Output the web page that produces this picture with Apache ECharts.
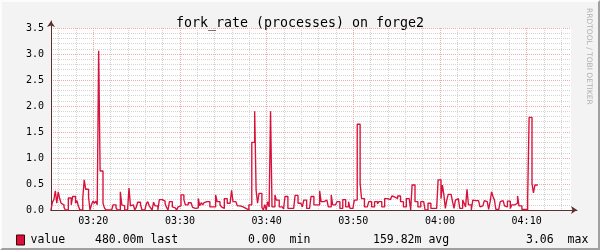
<!DOCTYPE html>
<html><head><meta charset="utf-8">
<script src="https://cdn.jsdelivr.net/npm/echarts@6/dist/echarts.min.js"></script>
<style>
html,body{margin:0;padding:0;background:#f3f3f3;}
#wrap{position:relative;width:600px;height:250px;}
#chart{width:600px;height:250px;}
#frame{position:absolute;left:0;top:0;width:600px;height:250px;box-sizing:border-box;border-top:2px solid #fcfcfc;border-left:2px solid #fcfcfc;border-right:2px solid #a0a0a0;border-bottom:2px solid #a0a0a0;pointer-events:none;}
</style></head>
<body><div id="wrap"><div id="chart"></div><div id="frame"></div></div>
<script>
// ---- data ----
const chartTitle = 'fork_rate (processes) on forge2';
const seriesName = 'value';
const startMinute = 195.12;      // 03:15:07 in minutes of day
const stepSeconds = 10;
const spanMinutes = 60;
const majorTickMinutes = [200, 210, 220, 230, 240, 250];
const xTickLabels = ['03:20', '03:30', '03:40', '03:50', '04:00', '04:10'];
const minorTickMinutes = [196,198,200,202,204,206,208,210,212,214,216,218,220,222,224,226,228,230,232,234,236,238,240,242,244,246,248,250,252,254];
const yMax = 3.5;
const yInterval = 0.5;
const statTexts = ['480.00m last', '0.00  min', '159.82m avg', '3.06  max'];

const values0315 = [0,0.15,0.2,0.37,0.13,0.35,0.22,0.13,0.1,0.05,0,0,0.23,0.23,0.1,0.26,0.26,0.13,0.18,0.07,0,0,0.23,0.58,0.4,0.4,0.25,0,0.1,0.17,0.13,0.17,0.1,3.06,0.75,0.75,0.13,0.04,0,0];
const values0322 = [0,0,0,0.1,0.1,0.04,0,0,0.35,0.1,0.08,0,0,0,0.42,0.08,0.1,0.1,0,0.05,0.15,0.15,0.1,0,0,0,0.12,0.16,0.08,0.04,0,0.15,0.08,0.08,0,0.2,0.2,0.22,0.17,0.12,0.05,0];
const values0329 = [0.16,0.16,0.06,0.04,0.06,0,0.06,0.08,0.29,0.29,0.2,0.1,0.1,0.14,0.14,0.14,0.05,0.03,0.06,0.04,0.22,0.08,0.14,0.1,0.14,0.16,0.16,0.16,0.06,0.06,0.04,0.06,0.29,0.16,0.16,0.1,0.06,0.03,0.22,0.22,0.13,0.13,0.13,0.38,0.16,0.16,0.16,0.08,0.08,0.08,0.06,0.06,0.03,0,0,0.1,0.1,1.3,1.3,1.9,0.38,0.13,0.32,0.32,0.05,0,0.1,0,0.16,0.06,1.9,0.06,0.06,0.29,0.19,0.19,0.06,0.06,0.04,0.02,0.26,0.26,0.03,0.03,0.03,0.03,0.03,0.28,0.28,0.13,0.13,0.13,0.06,0.19,0.19,0.03,0.03];
const values0345 = [0.04,0.26,0.26,0.1,0.1,0.08,0.1,0.37,0.16,0.16,0.16,0.19,0.19,0.06,0.06,0.29,0.1,0.1,0.1,0.16,0.16,0.03,0.03,0.2,0.2,0.06,0.06,0.16,0.03,0.03,0,0.19,0.19,1.65,1.65,0.51,0.22,0.22,0.06,0.06,0.06,0.16,0.16,0.06,0.06,0.16,0.16,0.12,0.16,0.16,0.06,0.06,0.22,0.22,0.22,0.2,0.22,0.27,0.25,0.27,0.22,0.27,0.27,0.16,0.16,0.06,0.06,0.22,0.22,0.22,0,0.48,0.48,0.16,0.16,0.06,0.06,0.16,0.16,0.16,0,0,0.13,0.13,0.03,0.03,0.03,0.03,0];
const values0400 = [0.58,0.58,0.22,0.48,0.29,0.03,0.19,0.3,0.3,0.3,0.16,0.03,0.19,0.22,0.22,0.03,0.03,0.19,0.13,0.06,0.4,0.1,0.1,0,0.19,0.18,0.18,0.18,0.18,0.06,0.08,0.08,0.18,0.16,0.16,0.01,0.16,0.35,0.26,0.19,0.01,0.01,0.01,0.16,0.18,0.18,0.08,0.06,0.17,0.17,0.03,0.1,0.1,0.08,0.13,0.27,0.08,0.08,0.01,0.01,0.01,0,0.22,1.78,1.78,0.51,0.33,0.48,0.48];

// ---- build ----
const values = [].concat(values0315, values0322, values0329, values0345, values0400);
const stepMin = stepSeconds / 60;
const points = values.map((v, i) => [startMinute + i * stepMin, v]);
points.push([startMinute + values.length * stepMin, values[values.length - 1]]);
const xMin = startMinute, xMax = startMinute + spanMinutes;

const mono = 'DejaVu Sans Mono';
const lineColor = '#D8103A';
const majorGrid = '#f0a8a8';
const minorGrid = '#d4d4d4';
const axisColor = '#5a3030';

const chart = echarts.init(document.getElementById('chart'), null, {renderer: 'canvas'});
chart.setOption({
  animation: false,
  backgroundColor: '#f3f3f3',
  title: [
    {text: chartTitle, left: 'center', top: 12, textStyle: {fontFamily: mono, fontSize: 13.3, fontWeight: 'normal', color: '#000'}},
    {text: statTexts[0], left: 90, top: 229, textStyle: {fontFamily: mono, fontSize: 11.5, fontWeight: 'normal', color: '#000'}},
    {text: statTexts[1], left: 243, top: 229, textStyle: {fontFamily: mono, fontSize: 11.5, fontWeight: 'normal', color: '#000'}},
    {text: statTexts[2], left: 368, top: 229, textStyle: {fontFamily: mono, fontSize: 11.5, fontWeight: 'normal', color: '#000'}},
    {text: statTexts[3], left: 521, top: 229, textStyle: {fontFamily: mono, fontSize: 11.5, fontWeight: 'normal', color: '#000'}}
  ],
  legend: {
    data: [seriesName], left: 11, top: 229, icon: 'rect', itemWidth: 8, itemHeight: 10, itemGap: 0,
    textStyle: {fontFamily: mono, fontSize: 11.5, color: '#000', padding: [0, 0, 0, 1]},
    itemStyle: {borderColor: '#400000', borderWidth: 1}
  },
  graphic: [{
    type: 'text', left: 585, top: 8, rotation: -Math.PI / 2,
    style: {text: 'RRDTOOL / TOBI OETIKER', fontFamily: 'DejaVu Sans', fontSize: 7.5, fill: '#b0b0b0'}
  }],
  grid: [
    {left: 51, top: 28, width: 520, height: 182, show: true, backgroundColor: '#ffffff', borderWidth: 0},
    {left: 51, top: 21, width: 526, height: 189, show: false}
  ],
  xAxis: [
    {gridIndex: 0, type: 'value', min: xMin, max: xMax, z: 2,
      axisLine: {show: true, lineStyle: {color: axisColor, width: 1}},
      axisTick: {show: false, customValues: majorTickMinutes},
      axisLabel: {customValues: majorTickMinutes, margin: 6, fontFamily: mono, fontSize: 10, color: '#000',
        formatter: v => xTickLabels[majorTickMinutes.indexOf(v)] || ''},
      splitLine: {show: true, lineStyle: {color: majorGrid, width: 1, type: [1, 1]}}},
    {gridIndex: 0, type: 'value', min: xMin, max: xMax, z: 1,
      axisLine: {show: false}, axisLabel: {show: false},
      axisTick: {show: false, customValues: minorTickMinutes},
      splitLine: {show: true, lineStyle: {color: minorGrid, width: 1, type: [1, 1]}}},
    {gridIndex: 1, type: 'value', min: 0, max: 1, z: 3,
      axisLine: {show: true, symbol: ['none', 'arrow'], symbolSize: [6, 6], lineStyle: {color: axisColor, width: 1}},
      axisTick: {show: false}, axisLabel: {show: false}, splitLine: {show: false}}
  ],
  yAxis: [
    {gridIndex: 0, type: 'value', min: 0, max: yMax, interval: yInterval, z: 1,
      axisLine: {show: false}, axisTick: {show: false},
      axisLabel: {margin: 7, fontFamily: mono, fontSize: 10, color: '#000', formatter: v => v.toFixed(1)},
      splitLine: {show: true, lineStyle: {color: majorGrid, width: 1, type: [1, 1]}},
      minorTick: {show: false, splitNumber: 5},
      minorSplitLine: {show: true, lineStyle: {color: minorGrid, width: 1, type: [1, 1]}}},
    {gridIndex: 1, type: 'value', min: 0, max: 1, z: 3,
      axisLine: {show: true, symbol: ['none', 'arrow'], symbolSize: [6, 6], lineStyle: {color: axisColor, width: 1}},
      axisTick: {show: false}, axisLabel: {show: false}, splitLine: {show: false}}
  ],
  series: [{
    name: seriesName, type: 'line', xAxisIndex: 0, yAxisIndex: 0, step: 'end',
    data: points, showSymbol: false, symbol: 'none', z: 5,
    lineStyle: {color: lineColor, width: 1.35}, itemStyle: {color: lineColor}
  }]
});
</script>
</body></html>
